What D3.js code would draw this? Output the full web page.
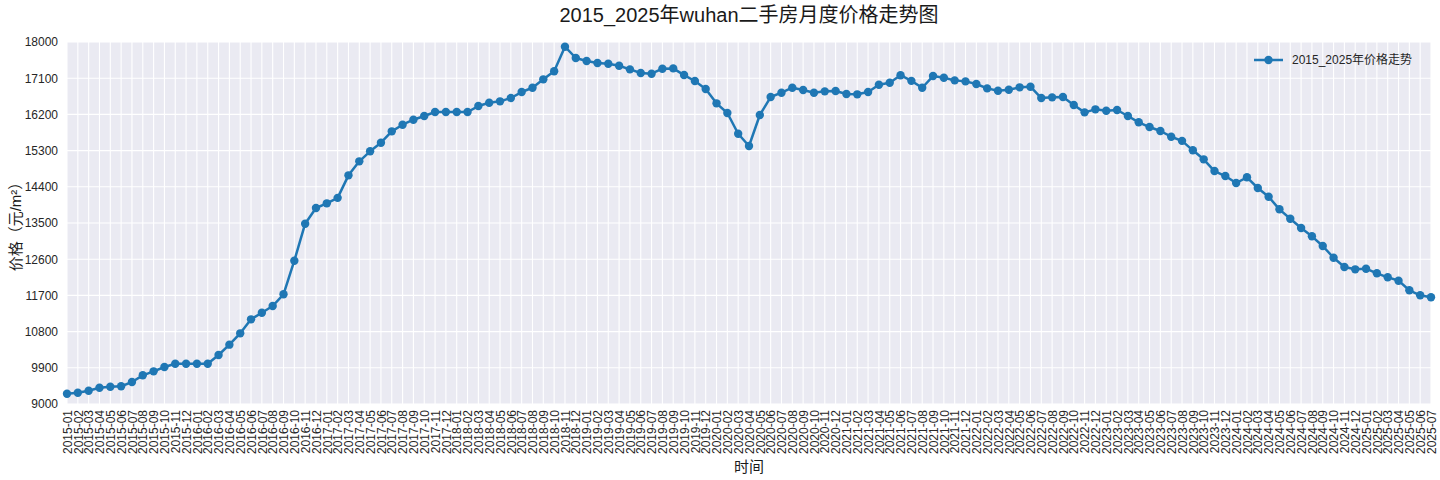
<!DOCTYPE html>
<html>
<head>
<meta charset="utf-8">
<script src="https://cdn.jsdelivr.net/npm/d3@7"></script>
<style>
  body { margin: 0; background: #fff; }
  text { font-family: "Liberation Sans", "Noto Sans CJK SC", sans-serif; }
</style>
</head>
<body>
<div id="chart"></div>
<script>
// Months 2015-01 .. 2025-07
const YEARS = [2015, 2016, 2017, 2018, 2019, 2020, 2021, 2022, 2023, 2024, 2025];
const MONTHS = [];
YEARS.forEach(function (y) {
    for (var m = 1; m <= 12; m++) {
        if (y === 2025 && m > 7) break;
        MONTHS.push(y + "-" + (m < 10 ? "0" + m : m));
    }
});

// Price per m2.
const PRICES = [
    9256, 9281, 9331, 9405, 9430, 9440, 9547, 9713, 9812, 9920, 10002, 10002,
    10000, 10000, 10218, 10475, 10757, 11105, 11270, 11436, 11727, 12563, 13483, 13873,
    13989, 14125, 14685, 15033, 15282, 15497, 15779, 15944, 16068, 16160, 16259, 16259,
    16259, 16259, 16408, 16491, 16525, 16607, 16756, 16863, 17072, 17271, 17883, 17602,
    17527, 17477, 17460, 17410, 17320, 17229, 17212, 17336, 17344, 17178, 17030, 16831,
    16475, 16234, 15720, 15414, 16185, 16632, 16740, 16863, 16806, 16740, 16773, 16781,
    16707, 16699, 16756, 16938, 16988, 17175, 17034, 16863, 17154, 17112, 17046, 17021,
    16955, 16847, 16789, 16814, 16873, 16889, 16607, 16624, 16632, 16433, 16251, 16326,
    16292, 16309, 16160, 16003, 15886, 15787, 15645, 15542, 15307, 15083, 14792, 14668,
    14494, 14636, 14370, 14154, 13840, 13607, 13375, 13169, 12928, 12637, 12406, 12348,
    12364, 12249, 12150, 12066, 11827, 11703, 11653
];

const Y_TICKS = [9000, 9900, 10800, 11700, 12600, 13500, 14400, 15300, 16200, 17100, 18000];

const TITLE = "2015_2025年wuhan二手房月度价格走势图";
const SERIES_NAME = "2015_2025年价格走势";

const WIDTH = 1440, HEIGHT = 480;
const M = {left: 67, right: 9, top: 42, bottom: 76};
const W = WIDTH - M.left - M.right;
const H = HEIGHT - M.top - M.bottom;

var svg = d3.select("#chart").append("svg")
            .attr("width", WIDTH)
            .attr("height", HEIGHT);

var x = d3.scalePoint().domain(MONTHS).range([0, W]).padding(0);
var y = d3.scaleLinear().domain([9000, 18000]).range([H, 0]);

var g = svg.append("g").attr("transform", "translate(" + M.left + "," + M.top + ")");

// plot background
g.append("rect").attr("width", W).attr("height", H).attr("fill", "#eaeaf2");

// grid
g.append("g").selectAll("line").data(MONTHS).enter().append("line")
 .attr("x1", function (d) { return x(d); }).attr("x2", function (d) { return x(d); })
 .attr("y1", 0).attr("y2", H)
 .attr("stroke", "#fff").attr("stroke-width", 1.1);
g.append("g").selectAll("line").data(Y_TICKS).enter().append("line")
 .attr("x1", 0).attr("x2", W)
 .attr("y1", function (d) { return y(d); }).attr("y2", function (d) { return y(d); })
 .attr("stroke", "#fff").attr("stroke-width", 1.1);

// axes
var xAxis = g.append("g").attr("transform", "translate(0," + H + ")")
             .call(d3.axisBottom(x).tickSize(0).tickPadding(6));
xAxis.select(".domain").remove();
xAxis.selectAll("text")
     .attr("transform", "rotate(-90)")
     .attr("text-anchor", "end")
     .attr("x", -6).attr("y", 0).attr("dy", "0.35em")
     .attr("font-size", "12px").attr("fill", "#262626");

var yAxis = g.append("g")
             .call(d3.axisLeft(y).tickValues(Y_TICKS).tickSize(0).tickPadding(9).tickFormat(d3.format("d")));
yAxis.select(".domain").remove();
yAxis.selectAll("text").attr("font-size", "12px").attr("fill", "#262626");

// line + markers
var line = d3.line()
             .x(function (d, i) { return x(MONTHS[i]); })
             .y(function (d) { return y(d); });

g.append("path").datum(PRICES)
 .attr("d", line)
 .attr("fill", "none")
 .attr("stroke", "#1f77b4")
 .attr("stroke-width", 2.5)
 .attr("stroke-linejoin", "round");

g.append("g").selectAll("circle").data(PRICES).enter().append("circle")
 .attr("cx", function (d, i) { return x(MONTHS[i]); })
 .attr("cy", function (d) { return y(d); })
 .attr("r", 4.2)
 .attr("fill", "#1f77b4");

// title and labels
svg.append("text")
   .attr("x", M.left + W / 2).attr("y", 22)
   .attr("text-anchor", "middle")
   .attr("font-size", "20px").attr("fill", "#1a1a1a")
   .text(TITLE);

svg.append("text")
   .attr("x", M.left + W / 2).attr("y", 472)
   .attr("text-anchor", "middle")
   .attr("font-size", "15px").attr("fill", "#1a1a1a")
   .text("时间");

svg.append("text")
   .attr("transform", "translate(16," + (M.top + H / 2) + ") rotate(-90)")
   .attr("text-anchor", "middle")
   .attr("dy", "0.35em")
   .attr("font-size", "15px").attr("fill", "#1a1a1a")
   .text("价格（元/m²）");

// legend
var lg = svg.append("g").attr("transform", "translate(1254,60)");
lg.append("line").attr("x1", 0).attr("x2", 29).attr("y1", 0).attr("y2", 0)
  .attr("stroke", "#1f77b4").attr("stroke-width", 2.5);
lg.append("circle").attr("cx", 14.5).attr("cy", 0).attr("r", 4.2).attr("fill", "#1f77b4");
lg.append("text").attr("x", 38).attr("y", 0).attr("dy", "0.35em")
  .attr("font-size", "12px").attr("fill", "#262626")
  .text(SERIES_NAME);
</script>
</body>
</html>
